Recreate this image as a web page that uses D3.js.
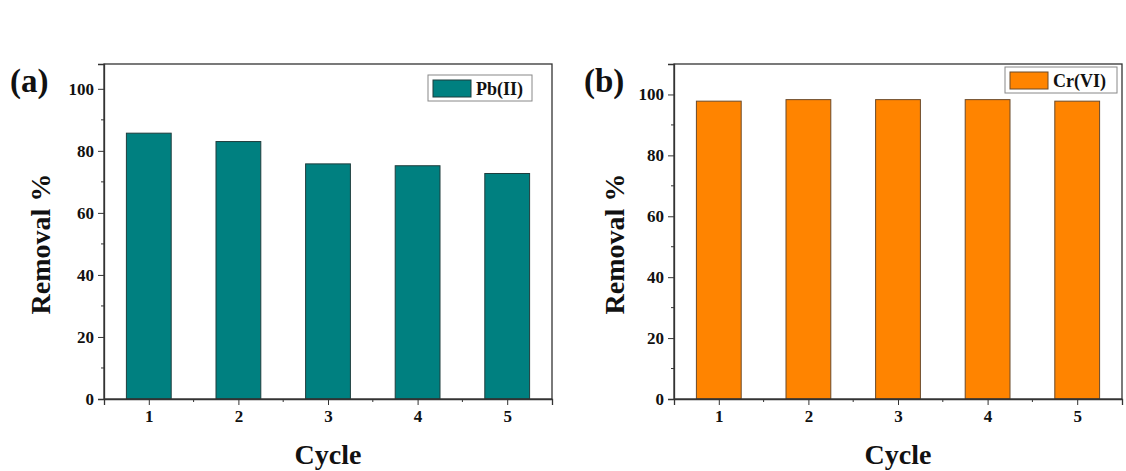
<!DOCTYPE html>
<meta charset="utf-8">
<script src="https://d3js.org/d3.v7.min.js"></script>
<style>
  body { margin: 0; background: #fff; }
  text { font-family: "Liberation Serif", "Times New Roman", serif; font-weight: bold; fill: #111; }
</style>
<body>
<svg id="chart" width="1126" height="471"></svg>
<script>

// data
const cycles = [1, 2, 3, 4, 5];
const pbRemoval = [85.7, 83.0, 75.8, 75.2, 72.7];
const crRemoval = [97.8, 98.3, 98.3, 98.3, 97.8];
const yTicks = [0, 20, 40, 60, 80, 100];

const svg = d3.select("#chart");

function drawPanel(opt) {
  const g = svg.append("g");
  const x = d3.scaleLinear().domain([0.5, 5.5]).range([opt.left, opt.right]);
  const y = d3.scaleLinear().domain([0, opt.ymax]).range([opt.bottom, opt.top]);

  // bars
  g.selectAll("rect.bar")
    .data(opt.values)
    .join("rect")
      .attr("class", "bar")
      .attr("x", (d, i) => x(cycles[i] - 0.25))
      .attr("width", x(1.25) - x(0.75))
      .attr("y", d => y(d))
      .attr("height", d => y(0) - y(d))
      .attr("fill", opt.color)
      .attr("stroke", opt.stroke)
      .attr("stroke-width", 1);

  // frame
  g.append("rect")
    .attr("x", opt.left).attr("y", opt.top)
    .attr("width", opt.right - opt.left).attr("height", opt.bottom - opt.top)
    .attr("fill", "none").attr("stroke", "#333").attr("stroke-width", 1.3);

  // x axis
  const xAxis = g.append("g")
    .attr("transform", `translate(0, ${opt.bottom})`)
    .call(d3.axisBottom(x).tickValues(cycles).tickSize(6).tickPadding(5).tickFormat(d3.format("d")));
  xAxis.append("g").selectAll("line")
    .data([1.5, 2.5, 3.5, 4.5])
    .join("line")
      .attr("x1", d => x(d)).attr("x2", d => x(d))
      .attr("y1", 0).attr("y2", 3)
      .attr("stroke", "#333");

  // y axis
  const yAxis = g.append("g")
    .attr("transform", `translate(${opt.left}, 0)`)
    .call(d3.axisLeft(y).tickValues(yTicks).tickSize(6).tickPadding(4));
  yAxis.append("g").selectAll("line")
    .data([10, 30, 50, 70, 90])
    .join("line")
      .attr("y1", d => y(d)).attr("y2", d => y(d))
      .attr("x1", 0).attr("x2", -3)
      .attr("stroke", "#333");

  [xAxis, yAxis].forEach(a => {
    a.select(".domain").attr("stroke", "#333").attr("stroke-width", 1.3);
    a.selectAll(".tick line").attr("stroke", "#333");
    a.selectAll("text")
      .attr("font-family", "Liberation Serif")
      .attr("font-weight", "bold")
      .attr("font-size", 17)
      .attr("fill", "#111");
  });

  // axis titles
  g.append("text")
    .attr("x", (opt.left + opt.right) / 2)
    .attr("y", 464)
    .attr("text-anchor", "middle")
    .attr("font-size", 28)
    .text("Cycle");

  g.append("text")
    .attr("transform", `translate(${opt.ytitleX}, 244) rotate(-90)`)
    .attr("text-anchor", "middle")
    .attr("font-size", 28)
    .text("Removal %");

  // panel label
  g.append("text")
    .attr("x", opt.labelX)
    .attr("y", 92)
    .attr("font-size", 33)
    .text(opt.label);

  // legend
  const lg = g.append("g").attr("transform", `translate(${opt.legX}, ${opt.legY})`);
  lg.append("rect")
    .attr("width", opt.legW).attr("height", 26)
    .attr("fill", "#fff").attr("stroke", "#888").attr("stroke-width", 1);
  lg.append("rect")
    .attr("x", 5).attr("y", 5).attr("width", 38).attr("height", 17)
    .attr("fill", opt.color).attr("stroke", opt.stroke);
  lg.append("text")
    .attr("x", 48).attr("y", 20)
    .attr("font-size", 18)
    .text(opt.name);
}

drawPanel({
  left: 104, right: 552, top: 64, bottom: 399, ymax: 108,
  values: pbRemoval, color: "#008080", stroke: "#1f3d3d",
  name: "Pb(II)", label: "(a)", labelX: 10, ytitleX: 50,
  legX: 428, legY: 75, legW: 104
});

drawPanel({
  left: 674, right: 1122, top: 64, bottom: 399, ymax: 110,
  values: crRemoval, color: "#FF8400", stroke: "#6b4a2a",
  name: "Cr(VI)", label: "(b)", labelX: 584, ytitleX: 624,
  legX: 1005, legY: 67, legW: 112
});

</script>
</body>
